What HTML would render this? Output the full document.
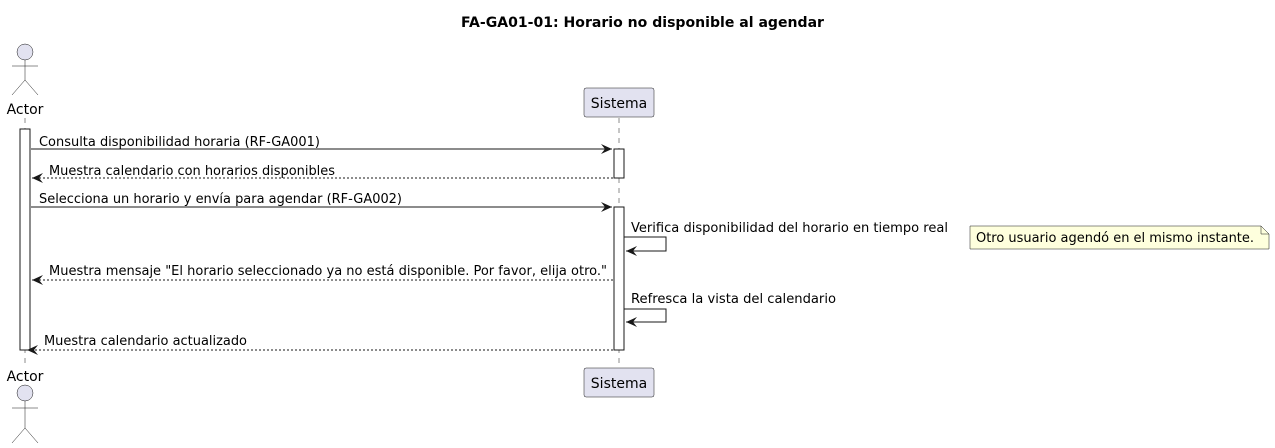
<!DOCTYPE html>
<html><head><meta charset="utf-8"><style>html,body{margin:0;padding:0;background:#fff}svg{display:block}</style></head>
<body>
<svg width="1275" height="448" viewBox="0 0 1275 448" xmlns="http://www.w3.org/2000/svg" font-family="'DejaVu Sans','Liberation Sans',sans-serif">
<defs>
<marker id="ah" markerWidth="12" markerHeight="10" refX="11" refY="5" orient="auto" markerUnits="userSpaceOnUse">
<path d="M0,0 L11,5 L0,10 L4,5 Z" fill="#181818"/>
</marker>
</defs>
<text x="461" y="27" font-size="14" font-weight="bold" textLength="363" lengthAdjust="spacingAndGlyphs">FA-GA01-01: Horario no disponible al agendar</text>

<!-- lifelines -->
<line x1="25" y1="118" x2="25" y2="368" stroke="#181818" stroke-width="0.5" stroke-dasharray="5,5"/>
<line x1="619" y1="118" x2="619" y2="368" stroke="#181818" stroke-width="0.5" stroke-dasharray="5,5"/>

<!-- top actor -->
<circle cx="25" cy="52" r="8" fill="#E2E2F0" stroke="#181818" stroke-width="0.5"/>
<line x1="25" y1="60" x2="25" y2="80" stroke="#181818" stroke-width="0.5"/>
<line x1="12" y1="66" x2="38" y2="66" stroke="#181818" stroke-width="0.5"/>
<line x1="25" y1="80" x2="12" y2="95" stroke="#181818" stroke-width="0.5"/>
<line x1="25" y1="80" x2="38" y2="95" stroke="#181818" stroke-width="0.5"/>
<text x="25" y="114" font-size="14" text-anchor="middle">Actor</text>

<!-- bottom actor -->
<text x="25" y="381" font-size="14" text-anchor="middle">Actor</text>
<circle cx="25" cy="393" r="8" fill="#E2E2F0" stroke="#181818" stroke-width="0.5"/>
<line x1="25" y1="401" x2="25" y2="428" stroke="#181818" stroke-width="0.5"/>
<line x1="12" y1="408" x2="38" y2="408" stroke="#181818" stroke-width="0.5"/>
<line x1="25" y1="428" x2="12" y2="443" stroke="#181818" stroke-width="0.5"/>
<line x1="25" y1="428" x2="38" y2="443" stroke="#181818" stroke-width="0.5"/>

<!-- Sistema boxes -->
<rect x="584" y="88" width="70" height="29" rx="2" fill="#E2E2F0" stroke="#181818" stroke-width="0.5"/>
<text x="619" y="108" font-size="14" text-anchor="middle">Sistema</text>
<rect x="584" y="368" width="70" height="29" rx="2" fill="#E2E2F0" stroke="#181818" stroke-width="0.5"/>
<text x="619" y="388" font-size="14" text-anchor="middle">Sistema</text>

<!-- activations -->
<rect x="20" y="129" width="10" height="221" fill="#fff" stroke="#181818" stroke-width="1"/>
<rect x="614" y="149" width="10" height="29" fill="#fff" stroke="#181818" stroke-width="1"/>
<rect x="614" y="207" width="10" height="143" fill="#fff" stroke="#181818" stroke-width="1"/>

<g font-size="13" fill="#000">
<line x1="31" y1="149" x2="612" y2="149" stroke="#181818" marker-end="url(#ah)"/>
<text x="39" y="146" textLength="281" lengthAdjust="spacingAndGlyphs">Consulta disponibilidad horaria (RF-GA001)</text>

<line x1="613" y1="178" x2="32" y2="178" stroke="#181818" stroke-dasharray="2,2" marker-end="url(#ah)"/>
<text x="49" y="175" textLength="286" lengthAdjust="spacingAndGlyphs">Muestra calendario con horarios disponibles</text>

<line x1="31" y1="207" x2="612" y2="207" stroke="#181818" marker-end="url(#ah)"/>
<text x="39" y="203" textLength="363" lengthAdjust="spacingAndGlyphs">Selecciona un horario y envía para agendar (RF-GA002)</text>

<polyline points="624,237 666,237 666,251 626,251" fill="none" stroke="#181818" marker-end="url(#ah)"/>
<text x="631" y="232" textLength="317" lengthAdjust="spacingAndGlyphs">Verifica disponibilidad del horario en tiempo real</text>

<path d="M970,226 L1261,226 L1269,234 L1269,249 L970,249 Z" fill="#FEFFDD" stroke="#181818" stroke-width="0.5"/>
<path d="M1261,226 L1261,234 L1269,234" fill="none" stroke="#181818" stroke-width="0.5"/>
<text x="976" y="242" textLength="278" lengthAdjust="spacingAndGlyphs">Otro usuario agendó en el mismo instante.</text>

<line x1="613" y1="280" x2="32" y2="280" stroke="#181818" stroke-dasharray="2,2" marker-end="url(#ah)"/>
<text x="49" y="275" textLength="558" lengthAdjust="spacingAndGlyphs">Muestra mensaje "El horario seleccionado ya no está disponible. Por favor, elija otro."</text>

<polyline points="624,309 666,309 666,322 626,322" fill="none" stroke="#181818" marker-end="url(#ah)"/>
<text x="631" y="303" textLength="205" lengthAdjust="spacingAndGlyphs">Refresca la vista del calendario</text>

<line x1="613" y1="350" x2="27" y2="350" stroke="#181818" stroke-dasharray="2,2" marker-end="url(#ah)"/>
<text x="44" y="345" textLength="203" lengthAdjust="spacingAndGlyphs">Muestra calendario actualizado</text>
</g>
</svg>
</body></html>
